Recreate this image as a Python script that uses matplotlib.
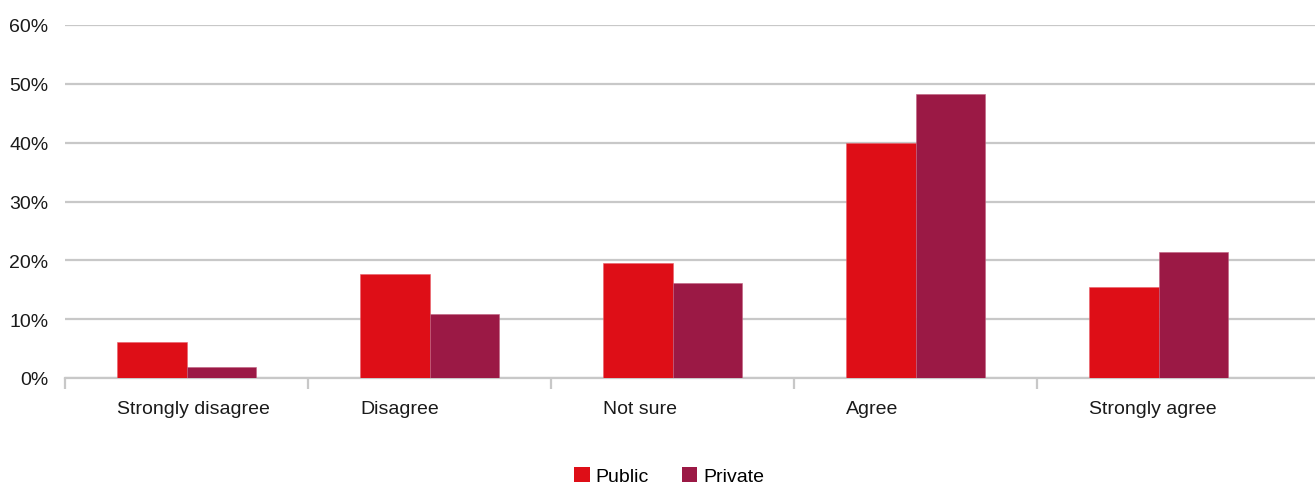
import matplotlib
matplotlib.use("Agg")
import matplotlib.pyplot as plt
from matplotlib.patches import Patch
import numpy as np

categories = ["Strongly disagree", "Disagree", "Not sure", "Agree", "Strongly agree"]
public = [6.1, 17.6, 19.6, 40.0, 15.5]
private = [1.8, 10.8, 16.1, 48.2, 21.4]
yticks = [0, 10, 20, 30, 40, 50, 60]

c_public = "#DE0E17"
c_private = "#9B1945"
grid_c = "#C8C8C8"

plt.rcParams["font.family"] = ["Liberation Sans", "DejaVu Sans"]

fig = plt.figure(figsize=(13.15, 4.85), dpi=100)
ax = fig.add_axes([65 / 1315, 1 - 379 / 485, 1 - 65 / 1315, (379 - 26) / 485])

x = np.arange(len(categories))
w = 0.286
ax.bar(x - w / 2, public, width=w, color=c_public, edgecolor="#E8606A", linewidth=0.4, zorder=3)
ax.bar(x + w / 2, private, width=w, color=c_private, edgecolor="#C0607F", linewidth=0.4, zorder=3)

ax.set_xlim(-0.5, (1315 - 187) / 243)
ax.set_ylim(0, 60)
ax.set_yticks(yticks)
ax.set_yticklabels([f"{v}%" for v in yticks], fontsize=14, color="#1a1a1a")
ax.tick_params(axis="y", length=0, pad=12)
ax.yaxis.grid(True, color=grid_c, linewidth=1.6, zorder=0)

# category boundary ticks below the axis; labels start at the left bar edge
ax.set_xticks(np.arange(-0.5, len(categories) - 0.5, 1.0))
ax.set_xticklabels([])
ax.tick_params(axis="x", length=8, width=1.6, color=grid_c, direction="out")
for i, c in enumerate(categories):
    ax.text(i - w, -5.1, c, ha="left", va="center", fontsize=14, color="#1a1a1a")

for s in ["top", "right", "left"]:
    ax.spines[s].set_visible(False)
ax.spines["bottom"].set_color(grid_c)
ax.spines["bottom"].set_linewidth(1.6)

handles = [Patch(facecolor=c_public, label="Public"), Patch(facecolor=c_private, label="Private")]
fig.legend(handles=handles, loc="center", bbox_to_anchor=(669 / 1315, 1 - 477 / 485),
           ncol=2, frameon=False, fontsize=14, handlelength=0.8, handleheight=0.8,
           handletextpad=0.3, columnspacing=1.7)

fig.savefig("out.png", dpi=100)
